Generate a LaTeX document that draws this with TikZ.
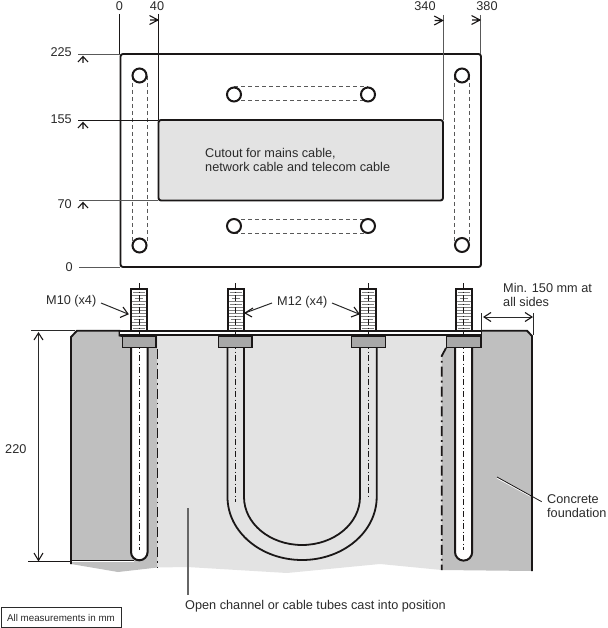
\documentclass[tikz,border=0pt]{standalone}
\usepackage{fontspec}
\setmainfont{Liberation Sans}
\usetikzlibrary{calc}
\definecolor{darkc}{HTML}{BFBFBF}
\definecolor{lightc}{HTML}{E3E3E3}
\definecolor{washc}{HTML}{A8A8A8}
\definecolor{inkc}{HTML}{1A1717}
\definecolor{dimc}{HTML}{2A2A2A}
\tikzset{
 x=1pt,y=-1pt,
 lab/.style={font=\fontsize{12.7}{14.2}\selectfont,text=dimc,inner sep=0pt},
 labl/.style={lab,anchor=west,align=left},
 outline/.style={draw=inkc,line width=1.9pt},
 thin dim/.style={draw=dimc,line width=1pt},
 hole/.style={circle,draw=inkc,line width=2pt,fill=white,minimum size=14pt,inner sep=0pt},
 slot/.style={draw=gray!70!black,line width=1pt,dash pattern=on 4pt off 3pt},
 centre/.style={draw=inkc,line width=0.7pt,dash pattern=on 6pt off 2.5pt on 1pt off 2.5pt},
 edgeb/.style={draw=inkc,line width=1.8pt,dash pattern=on 10pt off 4pt on 1.8pt off 4pt},
 bolt/.style={draw=inkc,line width=2pt},
 washer/.style={draw=inkc,line width=1.6pt,fill=washc},
 chev/.style={draw=inkc,line width=1.1pt,line join=miter},
 lead/.style={draw=dimc,line width=1pt}
}
\newcommand{\rmarkx}[2]{\draw[chev] (#1-8.5,#2-4.5) -- (#1,#2) -- (#1-8.5,#2+4.5) (#1-8,#2) -- (#1,#2);}
\newcommand{\umarkx}[2]{\draw[chev] (#1-5,#2+5.5) -- (#1,#2) -- (#1+5,#2+5.5) (#1,#2+6.5) -- (#1,#2);}
\newcommand{\threaded}[1]{%
 \fill[white] (#1-8,289) rectangle (#1+8,330);
 \foreach \yy/\ww in {292/6,295/7,298/4,301/7,304/6,307/7,310/7,313/7,316/7,319/5,322/7,325/7,328/6}{
   \draw[gray,line width=1pt] (#1-\ww,\yy) -- (#1+\ww,\yy);}
 \draw[bolt] (#1-8,330) -- (#1-8,289) -- (#1+8,289) -- (#1+8,330);
}
\begin{document}
\begin{tikzpicture}
\useasboundingbox (0,0) rectangle (607,628);
% concrete
\fill[darkc] (71,337) -- (77,331) -- (120,331) -- (120,336) -- (157.5,336) -- (157.5,567.5) -- (118,572) -- (71,564) -- cycle;
\fill[lightc] (157.5,335) -- (446,335) -- (446,348) -- (441.7,355) -- (441.7,570) -- (380,564) -- (287,573) -- (187,567) -- (157.5,567.5) -- cycle;
\fill[darkc] (441.7,355) -- (446,348) -- (446,335) -- (481,335) -- (481,331) -- (527,331) -- (532,336) -- (532,571) -- (441.7,570) -- cycle;
\draw[outline] (71,564) -- (71,337) -- (77,330.7) -- (119.5,330.7) -- (119.5,335.5) -- (122,336);
\draw[outline] (481,330.7) -- (527,330.7) -- (532,336) -- (532,571);
\draw[edgeb] (157.5,349) -- (157.5,567);
\draw[edgeb] (446,348) -- (441.7,356) -- (441.7,570);
% plate strip
\fill[white] (120,331) rectangle (481.5,335);
\draw[outline] (120,330.7) -- (481.5,330.7) (120,335.3) -- (481.5,335.3) (481.5,330) -- (481.5,336);
% straight bolts
\fill[white] (131,347) -- (131,552) arc[start angle=180,end angle=0,x radius=8.3,y radius=8.3] -- (147.7,347) -- cycle;
\draw[bolt] (131,347) -- (131,552) arc[start angle=180,end angle=0,x radius=8.3,y radius=8.3] -- (147.7,347);
\fill[white] (455,347) -- (455,552) arc[start angle=180,end angle=0,x radius=8.6,y radius=8.6] -- (472.2,347) -- cycle;
\draw[bolt] (455,347) -- (455,552) arc[start angle=180,end angle=0,x radius=8.6,y radius=8.6] -- (472.2,347);
% U bolt
\draw[bolt,line width=1.8pt] (227.5,347) -- (227.5,497) arc[start angle=180,end angle=0,x radius=74.6,y radius=63] -- (376.7,347);
\draw[bolt,line width=1.8pt] (244,347) -- (244,497) arc[start angle=180,end angle=0,x radius=58,y radius=48] -- (360,347);
% threads
\threaded{139.4}\threaded{235.7}\threaded{368.3}\threaded{463.6}
% centre lines
\draw[centre] (139.5,283) -- (139.5,550);
\draw[centre] (235.5,283) -- (235.5,502);
\draw[centre] (368,283) -- (368,497);
\draw[centre] (463,283) -- (463,550);
% washers
\draw[washer] (122.5,336) rectangle (156,347.5);
\draw[washer] (218.5,336) rectangle (252,347.5);
\draw[washer] (351.5,336) rectangle (385.5,347.5);
\draw[washer] (446.5,336) rectangle (481,347.5);
% 220 dimension
\draw[thin dim] (31,330) -- (75,330);
\draw[thin dim,draw=inkc] (28,561) -- (71,561);
\draw[white,line width=1.1pt] (72,561) -- (134,561);
\draw[inkc,line width=0.9pt] (72,560) -- (134,560);
\draw[thin dim] (38.5,333) -- (38.5,560);
\draw[chev] (34,340) -- (38.5,333) -- (43,340);
\draw[chev] (34,553) -- (38.5,560.5) -- (43,553);
% plan view
\draw[outline,rounded corners=2.5pt] (120.5,54) rectangle (481,267);
\draw[outline,fill=lightc,rounded corners=2.5pt] (158.5,120) rectangle (443,200.5);
\draw[slot] (132,76) -- (132,244) (147,76) -- (147,244);
\draw[slot] (454.5,76) -- (454.5,244) (469.5,76) -- (469.5,244);
\draw[slot] (234,87) -- (368,87) (234,100.5) -- (368,100.5);
\draw[slot] (234,219) -- (368,219) (234,233) -- (368,233);
\node[hole] (h1) at (139.5,75.5) {};
\node[hole] (h2) at (139.5,245.5) {};
\node[hole] (h3) at (462,75.5) {};
\node[hole] (h4) at (462,245) {};
\node[hole] (h5) at (234,94.5) {};
\node[hole] (h6) at (368,94.5) {};
\node[hole] (h7) at (234,226) {};
\node[hole] (h8) at (368,226) {};
% plan dimensions
\draw[thin dim,draw=inkc] (119.5,14) -- (119.5,54);
\draw[thin dim,draw=inkc] (158,14) -- (158,120);
\draw[thin dim,draw=gray!70!black] (443,15) -- (443,120);
\draw[thin dim,draw=gray!70!black] (480,15) -- (480,54);
\draw[thin dim,draw=gray!70!black] (78,54.5) -- (120,54.5);
\draw[thin dim,draw=inkc] (78,120.5) -- (158,120.5);
\draw[thin dim,draw=gray!70!black] (79,200.8) -- (158,200.8);
\draw[thin dim,draw=gray!70!black] (79,267) -- (120,267);
\rmarkx{158}{20}\rmarkx{442.7}{20.5}\rmarkx{480}{20}
\umarkx{83}{56.5}\umarkx{83}{122.5}\umarkx{83}{202.5}
% labels
\node[lab] (d0) at (119.5,6) {0};
\node[lab] (d40) at (157,6) {40};
\node[lab] (d340) at (425,6) {340};
\node[lab] (d380) at (487,6) {380};
\node[lab,anchor=east] (v225) at (72,52) {225};
\node[lab,anchor=east] (v155) at (72,119) {155};
\node[lab,anchor=east] (v70) at (72,204) {70};
\node[lab,anchor=east] (v0) at (73,267) {0};
\node[labl] (cut) at (205,160) {Cutout for mains cable,\\network cable and telecom cable};
\node[labl] (m10) at (46,301) {M10 (x4)};
\node[labl] (m12) at (277,302) {M12 (x4)};
\node[labl] (minl) at (503,295) {Min. 150 mm at\\all sides};
\node[lab,anchor=west] (d220) at (5,449) {220};
\node[labl] (conc) at (547,506) {Concrete\\foundation};
\node[labl] (chan) at (185,606) {Open channel or cable tubes cast into position};
\node[draw=dimc,line width=0.9pt,minimum width=120pt,minimum height=20pt,inner sep=0pt,font=\fontsize{9.8}{11}\selectfont,text=dimc] (note) at (61,617.5) {All measurements in mm};
% leaders
\coordinate (m10a) at (101,303);\coordinate (m10b) at (128,314);
\coordinate (m12a) at (272,303);\coordinate (m12b) at (245,313);
\coordinate (m12c) at (332,303);\coordinate (m12d) at (359,314);
\draw[lead] (m10a) -- (m10b);\draw[chev] (120,317.5) -- (128,314) -- (123,307);
\draw[lead] (m12a) -- (m12b);\draw[chev] (253,308) -- (245,313) -- (252,317);
\draw[lead] (m12c) -- (m12d);\draw[chev] (351,317) -- (359,314) -- (354,307);
\coordinate (mina) at (484,317);\coordinate (minb) at (532,317);
\draw[thin dim] (mina) -- (minb);
\draw[chev] (491,312.5) -- (484,317) -- (491,321.5);
\draw[chev] (525,312.5) -- (532,317) -- (525,321.5);
\draw[thin dim] (481.5,313) -- (481.5,331) (533,313) -- (533,335);
\coordinate (cona) at (497,477);\coordinate (conb) at (530,495);\coordinate (conc2) at (541.7,501.7);
\draw[white,line width=1pt] ($(cona)+(0,1)$) -- ($(conb)+(0,1)$);
\draw[inkc,line width=0.8pt] (cona) -- (conc2);
\coordinate (opa) at (188,508);\coordinate (opb) at (188,595);
\draw[draw=gray!80!black,line width=1.2pt] (opa) -- (opb);
\end{tikzpicture}
\end{document}
